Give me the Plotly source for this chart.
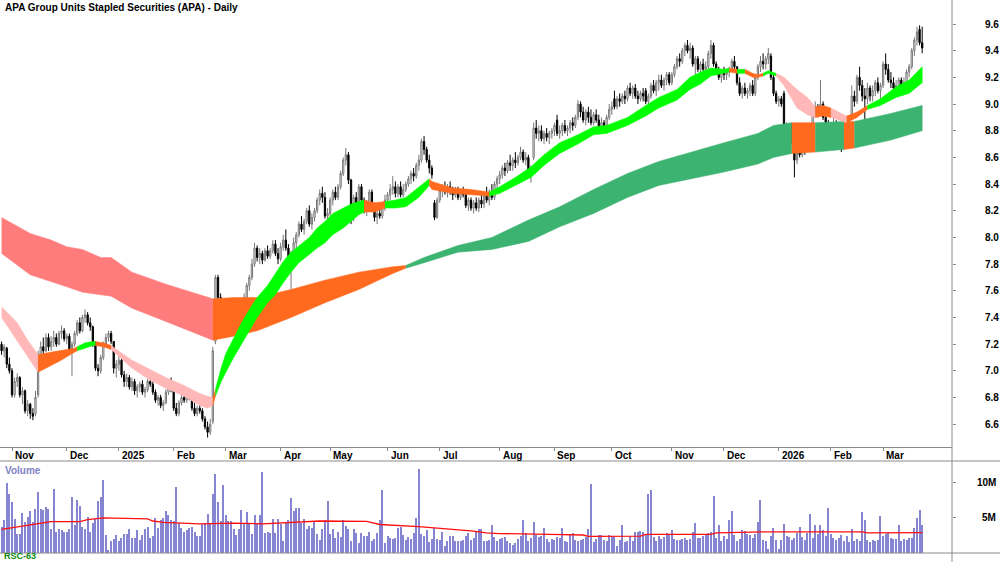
import pandas as pd
import plotly.graph_objects as go

# ---------------- data ----------------
HOLIDAYS = ["2024-12-25", "2024-12-26", "2025-01-01", "2025-01-27", "2025-04-18",
            "2025-04-21", "2025-04-25", "2025-06-09", "2025-12-25", "2025-12-26",
            "2026-01-01", "2026-01-26"]
START_DATE = "2024-10-28"
END_DATE = "2026-03-23"

MONTH_LABELS = ["Nov", "Dec", "2025", "Feb", "Mar", "Apr", "May", "Jun", "Jul", "Aug",
                "Sep", "Oct", "Nov", "Dec", "2026", "Feb", "Mar"]

OPEN = [
    7.20,7.15,7.17,7.05,7.00,6.82,6.92,6.95,6.82,6.85,
    6.70,6.75,6.68,6.68,6.82,7.12,7.18,7.15,7.25,7.18,
    7.22,7.25,7.20,7.28,7.30,7.24,7.26,7.16,7.20,7.28,
    7.36,7.30,7.40,7.42,7.36,7.33,7.20,7.02,7.00,7.10,
    7.20,7.25,7.28,7.22,7.02,7.05,7.08,6.97,6.92,6.95,
    6.88,6.92,6.85,6.88,6.90,6.84,6.86,6.92,6.90,6.84,
    6.78,6.80,6.74,6.76,6.84,6.88,6.86,6.72,6.68,6.76,
    6.80,6.78,6.83,6.80,6.72,6.68,6.72,6.70,6.64,6.58,
    6.54,6.62,7.22,7.70,7.55,7.45,7.48,7.36,7.42,7.33,
    7.40,7.32,7.35,7.46,7.55,7.64,7.70,7.80,7.92,7.85,
    7.88,7.83,7.90,7.86,7.90,7.95,7.88,7.84,7.93,7.98,
    7.92,7.84,7.86,7.96,8.02,8.10,8.06,8.12,8.20,8.10,
    8.15,8.20,8.28,8.33,8.30,8.16,8.18,8.28,8.34,8.30,
    8.38,8.48,8.58,8.62,8.43,8.14,8.30,8.26,8.38,8.28,
    8.20,8.25,8.34,8.24,8.15,8.18,8.16,8.22,8.28,8.32,
    8.36,8.38,8.33,8.38,8.32,8.36,8.40,8.44,8.48,8.46,
    8.54,8.58,8.72,8.66,8.58,8.52,8.26,8.15,8.28,8.35,
    8.38,8.34,8.38,8.34,8.32,8.36,8.30,8.34,8.32,8.24,
    8.28,8.22,8.26,8.22,8.28,8.25,8.32,8.28,8.34,8.30,
    8.40,8.44,8.47,8.52,8.50,8.56,8.54,8.58,8.56,8.60,
    8.64,8.58,8.60,8.50,8.60,8.82,8.78,8.80,8.74,8.78,
    8.75,8.78,8.80,8.88,8.78,8.80,8.84,8.80,8.82,8.86,
    8.84,8.90,9.00,8.94,8.88,8.94,8.90,8.86,8.92,8.88,
    8.82,8.86,8.84,8.90,8.96,9.04,8.98,9.04,9.02,9.06,
    9.04,9.12,9.08,9.12,9.06,9.04,9.08,9.10,9.02,9.06,
    9.14,9.10,9.16,9.18,9.14,9.18,9.22,9.16,9.22,9.28,
    9.34,9.32,9.40,9.44,9.40,9.42,9.30,9.34,9.26,9.30,
    9.26,9.28,9.38,9.44,9.30,9.24,9.20,9.24,9.22,9.24,
    9.26,9.32,9.28,9.16,9.08,9.12,9.08,9.10,9.14,9.08,
    9.20,9.28,9.32,9.30,9.34,9.36,9.20,9.08,9.02,9.04,
    9.08,8.82,8.80,8.84,8.72,8.58,8.66,8.62,8.68,8.66,
    8.76,8.84,8.94,8.98,8.96,9.00,8.90,8.84,8.80,8.82,
    8.86,8.78,8.80,8.70,8.76,8.84,8.92,9.06,9.02,9.20,
    9.14,9.06,9.04,9.12,9.06,9.10,9.16,9.10,9.14,9.30,
    9.26,9.18,9.16,9.12,9.14,9.18,9.12,9.16,9.24,9.28,
    9.40,9.48,9.56,9.46]
HIGH = [
    7.22,7.20,7.18,7.10,7.02,6.95,6.98,6.96,6.88,6.86,
    6.78,6.76,6.72,6.85,7.15,7.22,7.25,7.28,7.28,7.26,
    7.30,7.28,7.30,7.34,7.32,7.28,7.28,7.22,7.30,7.38,
    7.40,7.42,7.46,7.44,7.40,7.34,7.22,7.05,7.12,7.22,
    7.28,7.30,7.30,7.22,7.08,7.12,7.10,7.00,6.98,6.97,
    6.95,6.94,6.90,6.92,6.93,6.88,6.94,6.96,6.92,6.86,
    6.82,6.82,6.78,6.86,6.92,6.95,6.86,6.76,6.78,6.82,
    6.84,6.85,6.86,6.82,6.76,6.74,6.76,6.72,6.66,6.62,
    6.64,7.18,7.72,7.72,7.58,7.52,7.50,7.45,7.48,7.44,
    7.42,7.38,7.48,7.58,7.66,7.72,7.84,7.96,7.94,7.92,
    7.90,7.92,7.94,7.92,7.98,7.98,7.92,7.96,8.02,8.06,
    7.95,7.90,8.00,8.04,8.12,8.16,8.14,8.22,8.24,8.18,
    8.22,8.30,8.36,8.38,8.34,8.22,8.30,8.36,8.38,8.40,
    8.50,8.60,8.67,8.64,8.44,8.32,8.34,8.40,8.40,8.30,
    8.28,8.36,8.36,8.26,8.22,8.24,8.25,8.32,8.34,8.40,
    8.46,8.42,8.40,8.42,8.40,8.42,8.46,8.50,8.52,8.56,
    8.62,8.74,8.76,8.68,8.62,8.54,8.28,8.30,8.38,8.40,
    8.42,8.40,8.42,8.38,8.38,8.38,8.36,8.38,8.34,8.30,
    8.30,8.28,8.30,8.30,8.32,8.34,8.38,8.36,8.40,8.42,
    8.46,8.50,8.54,8.56,8.58,8.62,8.60,8.64,8.62,8.68,
    8.66,8.64,8.62,8.54,8.86,8.88,8.84,8.84,8.80,8.82,
    8.80,8.82,8.86,8.92,8.84,8.86,8.88,8.84,8.88,8.90,
    8.92,9.03,9.02,8.98,8.96,8.98,8.96,8.94,8.96,8.92,
    8.90,8.88,8.92,9.00,9.02,9.10,9.06,9.08,9.08,9.10,
    9.14,9.16,9.14,9.15,9.10,9.10,9.12,9.12,9.08,9.16,
    9.18,9.18,9.22,9.22,9.20,9.24,9.24,9.24,9.30,9.36,
    9.38,9.42,9.46,9.48,9.46,9.44,9.36,9.36,9.32,9.34,
    9.32,9.40,9.48,9.46,9.32,9.28,9.26,9.28,9.26,9.28,
    9.34,9.36,9.28,9.20,9.14,9.16,9.12,9.16,9.18,9.22,
    9.30,9.36,9.38,9.36,9.42,9.38,9.22,9.10,9.06,9.06,
    9.10,8.86,8.86,8.86,8.74,8.68,8.70,8.70,8.72,8.78,
    8.86,8.96,9.02,9.00,9.18,9.02,8.94,8.88,8.86,8.90,
    8.88,8.84,8.82,8.78,8.86,8.88,9.14,9.10,9.22,9.28,
    9.18,9.12,9.16,9.14,9.14,9.18,9.20,9.16,9.32,9.38,
    9.30,9.24,9.20,9.18,9.20,9.20,9.20,9.26,9.30,9.42,
    9.50,9.58,9.59,9.58]
LOW = [
    7.12,7.10,7.02,6.98,6.80,6.80,6.88,6.80,6.75,6.68,
    6.66,6.64,6.63,6.66,6.80,7.08,7.12,7.14,7.15,7.15,
    7.18,7.18,7.19,7.24,7.22,7.20,7.14,6.96,7.18,7.26,
    7.28,7.29,7.36,7.34,7.30,7.18,7.00,6.96,6.98,7.08,
    7.18,7.22,7.20,6.98,6.95,7.00,6.95,6.88,6.88,6.86,
    6.85,6.82,6.80,6.84,6.82,6.80,6.84,6.88,6.82,6.76,
    6.74,6.72,6.70,6.75,6.82,6.84,6.70,6.66,6.66,6.74,
    6.76,6.76,6.78,6.70,6.66,6.66,6.68,6.62,6.56,6.50,
    6.52,6.60,7.20,7.50,7.42,7.38,7.34,7.32,7.30,7.31,
    7.30,7.28,7.33,7.44,7.52,7.60,7.68,7.78,7.82,7.80,
    7.80,7.82,7.84,7.84,7.88,7.86,7.80,7.82,7.90,7.90,
    7.80,7.58,7.84,7.90,8.00,8.04,8.02,8.10,8.08,8.06,
    8.12,8.18,8.24,8.26,8.14,8.12,8.16,8.24,8.28,8.28,
    8.36,8.46,8.54,8.40,8.10,8.12,8.22,8.24,8.26,8.18,
    8.16,8.22,8.22,8.12,8.10,8.14,8.14,8.20,8.24,8.28,
    8.32,8.30,8.30,8.30,8.30,8.34,8.38,8.40,8.42,8.44,
    8.50,8.56,8.62,8.56,8.48,8.44,8.13,8.14,8.26,8.30,
    8.32,8.30,8.32,8.28,8.30,8.28,8.28,8.30,8.22,8.20,
    8.20,8.18,8.20,8.19,8.22,8.22,8.26,8.24,8.28,8.28,
    8.36,8.40,8.44,8.46,8.48,8.50,8.50,8.52,8.54,8.58,
    8.56,8.54,8.48,8.41,8.58,8.74,8.72,8.72,8.70,8.72,
    8.70,8.74,8.76,8.76,8.74,8.76,8.78,8.76,8.78,8.80,
    8.82,8.88,8.90,8.86,8.84,8.86,8.84,8.84,8.86,8.80,
    8.80,8.80,8.82,8.88,8.92,8.96,8.96,8.98,9.00,9.00,
    9.02,9.06,9.04,9.04,9.00,9.02,9.02,9.00,8.98,9.04,
    9.08,9.06,9.10,9.12,9.10,9.14,9.14,9.14,9.20,9.26,
    9.28,9.30,9.36,9.38,9.34,9.28,9.22,9.24,9.22,9.24,
    9.22,9.26,9.34,9.28,9.22,9.18,9.16,9.18,9.18,9.20,
    9.24,9.26,9.14,9.06,9.04,9.06,9.04,9.06,9.06,9.06,
    9.18,9.24,9.26,9.26,9.30,9.18,9.06,9.00,8.98,8.98,
    8.80,8.76,8.76,8.70,8.45,8.55,8.60,8.60,8.62,8.64,
    8.74,8.82,8.90,8.90,8.92,8.88,8.80,8.76,8.76,8.78,
    8.76,8.74,8.64,8.66,8.74,8.78,8.90,8.98,9.00,9.10,
    9.02,8.87,9.00,9.02,9.02,9.06,9.08,9.04,9.12,9.22,
    9.16,9.12,9.10,9.08,9.10,9.08,9.10,9.14,9.20,9.26,
    9.36,9.44,9.44,9.38]
CLOSE = [
    7.15,7.18,7.05,7.00,6.82,6.92,6.95,6.82,6.85,6.70,
    6.75,6.68,6.66,6.80,7.12,7.18,7.15,7.25,7.18,7.22,
    7.25,7.20,7.28,7.30,7.24,7.26,7.16,7.20,7.28,7.36,
    7.30,7.40,7.42,7.36,7.33,7.20,7.02,7.00,7.10,7.20,
    7.25,7.28,7.22,7.02,7.05,7.08,6.97,6.92,6.95,6.88,
    6.92,6.85,6.88,6.90,6.84,6.86,6.92,6.90,6.84,6.78,
    6.80,6.74,6.76,6.84,6.88,6.86,6.72,6.68,6.76,6.80,
    6.78,6.83,6.80,6.72,6.68,6.72,6.70,6.64,6.58,6.54,
    6.60,7.15,7.70,7.55,7.45,7.48,7.36,7.42,7.33,7.40,
    7.32,7.35,7.46,7.55,7.64,7.70,7.80,7.92,7.85,7.88,
    7.83,7.90,7.86,7.90,7.95,7.88,7.84,7.93,7.98,7.92,
    7.84,7.86,7.96,8.02,8.10,8.06,8.12,8.20,8.10,8.15,
    8.20,8.28,8.33,8.30,8.16,8.18,8.28,8.34,8.30,8.38,
    8.48,8.58,8.62,8.43,8.14,8.30,8.26,8.38,8.28,8.20,
    8.25,8.34,8.24,8.15,8.18,8.16,8.22,8.28,8.32,8.36,
    8.38,8.33,8.38,8.32,8.36,8.40,8.44,8.48,8.46,8.54,
    8.58,8.72,8.66,8.58,8.52,8.47,8.15,8.28,8.35,8.38,
    8.34,8.38,8.34,8.32,8.36,8.30,8.34,8.32,8.24,8.28,
    8.22,8.26,8.22,8.28,8.25,8.32,8.28,8.34,8.30,8.40,
    8.44,8.47,8.52,8.50,8.56,8.54,8.58,8.56,8.60,8.64,
    8.58,8.60,8.50,8.52,8.82,8.78,8.80,8.74,8.78,8.75,
    8.78,8.80,8.84,8.78,8.80,8.84,8.80,8.82,8.86,8.84,
    8.90,9.00,8.94,8.88,8.94,8.90,8.86,8.92,8.88,8.82,
    8.86,8.84,8.90,8.96,8.98,8.98,9.04,9.02,9.06,9.04,
    9.12,9.08,9.12,9.06,9.04,9.08,9.06,9.02,9.06,9.14,
    9.10,9.16,9.18,9.14,9.18,9.22,9.16,9.22,9.28,9.34,
    9.32,9.40,9.44,9.40,9.42,9.30,9.34,9.26,9.30,9.26,
    9.28,9.38,9.44,9.30,9.24,9.20,9.24,9.22,9.24,9.26,
    9.32,9.28,9.16,9.08,9.12,9.08,9.10,9.14,9.08,9.20,
    9.28,9.32,9.30,9.34,9.38,9.20,9.08,9.02,9.04,9.00,
    8.82,8.80,8.84,8.72,8.58,8.66,8.62,8.68,8.66,8.76,
    8.84,8.94,8.98,8.96,9.00,8.90,8.84,8.80,8.82,8.86,
    8.78,8.80,8.70,8.76,8.84,8.86,9.06,9.02,9.20,9.14,
    9.06,9.04,9.12,9.06,9.10,9.16,9.10,9.14,9.30,9.26,
    9.18,9.16,9.12,9.14,9.18,9.12,9.16,9.24,9.28,9.40,
    9.48,9.54,9.46,9.42]

# volume, millions of units
VOLUME_M = [
    3.6,4.7,9.9,8.4,7.2,4.8,2.6,2.6,5.7,4.4,
    5.1,5.9,4.4,6.2,8.7,6.2,6.1,6.5,6.2,3.3,
    9.1,2.9,3.3,3.2,3.0,3.0,3.3,7.9,3.9,7.5,
    6.6,3.7,3.4,5.1,3.0,4.2,4.8,7.3,8.0,10.4,
    2.5,0.4,1.6,2.0,2.5,1.7,2.1,2.7,2.7,3.4,
    2.1,2.1,3.2,1.8,2.5,3.3,3.7,2.1,2.4,5.0,
    3.5,4.6,5.0,6.0,5.4,4.6,4.5,9.4,4.2,3.5,
    3.0,3.2,3.5,3.7,3.0,2.4,2.4,4.1,4.2,5.5,
    4.1,8.4,11.2,7.2,4.5,9.7,5.4,4.5,4.5,3.4,
    2.5,3.4,6.1,4.1,5.8,4.2,2.7,5.3,4.2,5.3,
    11.5,2.8,2.9,2.8,4.8,2.8,4.8,4.1,1.7,4.4,
    4.7,7.8,5.9,6.3,6.4,4.2,4.8,3.4,3.8,3.5,
    4.5,2.6,1.8,3.3,4.6,7.3,2.7,3.3,2.1,2.9,
    2.2,4.7,3.8,3.4,1.6,3.4,2.8,1.3,2.8,2.3,
    2.3,3.0,1.6,2.0,2.8,4.7,8.9,1.3,2.4,2.1,
    2.0,2.1,3.5,3.7,2.5,1.8,2.2,2.0,2.8,4.9,
    12.0,2.7,2.3,3.2,1.5,2.0,3.5,2.0,1.8,3.0,
    1.0,1.6,2.4,2.4,1.6,1.7,1.6,1.8,2.3,2.8,
    1.8,2.1,3.0,3.3,3.4,1.6,1.6,1.8,3.9,2.2,
    1.7,2.0,2.1,2.2,1.6,1.4,1.1,1.4,2.0,2.4,
    4.7,2.8,1.6,2.1,4.4,2.5,2.2,2.3,3.5,2.0,
    1.5,2.0,1.8,2.2,2.1,3.5,1.6,1.5,2.7,2.8,
    1.8,1.6,1.8,2.0,2.2,3.3,9.8,1.5,2.0,2.5,
    2.5,1.8,1.6,2.5,2.4,2.2,1.0,1.8,3.9,1.5,
    1.6,2.3,1.6,3.0,3.0,3.1,3.0,2.7,8.3,8.9,
    2.2,1.7,2.4,2.0,2.2,2.8,2.5,3.2,2.0,1.8,
    1.8,2.0,2.1,1.8,2.0,3.0,4.2,2.1,2.1,2.3,
    2.6,2.8,2.9,8.1,2.1,3.9,1.6,2.4,2.0,4.6,
    5.9,2.5,1.7,2.0,3.2,3.1,2.6,2.5,2.1,2.7,
    4.3,7.5,1.8,1.6,0.5,2.3,3.5,1.8,0.5,1.8,
    4.1,2.3,2.2,1.8,2.1,2.8,3.6,2.2,1.8,2.8,
    5.5,2.1,4.0,2.6,3.9,3.2,2.3,6.3,2.6,2.1,
    1.8,2.1,2.5,1.6,2.3,1.5,3.4,1.7,2.0,1.6,
    5.8,4.6,1.8,1.5,1.8,1.6,1.8,5.2,2.3,2.6,
    2.8,2.1,2.0,1.9,4.0,1.6,2.0,1.8,2.1,2.1,
    3.5,4.9,6.1,4.0]

# volume moving average (read at sample bars)
VOL_MA_IDX = [0, 10, 19, 30, 33, 39, 56, 58, 62, 76, 80, 89, 100, 110, 122, 140, 145,
              160, 175, 180, 186, 191, 210, 223, 225, 245, 247, 272, 274, 290, 292,
              330, 332, 353]
VOL_MA_M = [3.3, 3.9, 4.4, 4.4, 4.7, 4.95, 4.8, 4.5, 4.3, 4.1, 4.15, 4.2, 4.1, 4.3, 4.5,
            4.45, 4.0, 3.7, 3.3, 3.1, 2.8, 2.7, 2.6, 2.5, 2.3, 2.35, 2.6, 2.6, 2.8,
            2.85, 2.95, 2.95, 2.8, 2.85]

# short-term trend band (read at sample bars)
FAST_IDX = [0, 6, 10, 14, 16, 22, 28, 29, 32, 35, 36, 39, 42, 50, 57, 63, 70, 76, 79, 81,
            82, 84, 86, 89, 92, 95, 98, 102, 105, 108, 111, 114, 118, 121, 124, 127, 131,
            134, 137, 139, 143, 147, 151, 155, 160, 164, 165, 173, 180, 187, 191, 197,
            203, 208, 214, 221, 227, 232, 240, 247, 252, 259, 264, 268, 272, 277, 279,
            282, 285, 288, 290, 292, 294, 297, 300, 305, 309, 312, 315, 318, 321, 324,
            328, 332, 337, 343, 348, 353]
FAST_TOP = [7.48, 7.36, 7.23, 7.12, 7.13, 7.15, 7.17, 7.18, 7.21, 7.22, 7.22, 7.21, 7.19,
            7.08, 7.01, 6.95, 6.89, 6.83, 6.81, 6.80, 6.86, 7.01, 7.13, 7.25, 7.36, 7.46,
            7.55, 7.64, 7.73, 7.82, 7.89, 7.94, 8.00, 8.07, 8.12, 8.18, 8.22, 8.25, 8.27,
            8.28, 8.26, 8.27, 8.28, 8.30, 8.38, 8.44, 8.42, 8.37, 8.36, 8.34, 8.38, 8.45,
            8.53, 8.62, 8.71, 8.77, 8.83, 8.84, 8.90, 8.99, 9.05, 9.11, 9.20, 9.24, 9.27,
            9.26, 9.27, 9.26, 9.26, 9.23, 9.22, 9.23, 9.25, 9.23, 9.20, 9.11, 9.05, 8.98,
            8.99, 8.97, 8.94, 8.91, 8.94, 8.99, 9.04, 9.13, 9.18, 9.28]
FAST_BOT = [7.40, 7.23, 7.11, 6.99, 7.01, 7.07, 7.14, 7.15, 7.17, 7.19, 7.19, 7.18, 7.16,
            7.02, 6.93, 6.87, 6.81, 6.74, 6.72, 6.74, 6.81, 6.91, 6.99, 7.10, 7.21, 7.30,
            7.40, 7.51, 7.57, 7.66, 7.74, 7.81, 7.87, 7.92, 7.96, 8.02, 8.07, 8.12, 8.17,
            8.19, 8.19, 8.22, 8.22, 8.23, 8.30, 8.39, 8.36, 8.33, 8.32, 8.31, 8.33, 8.39,
            8.45, 8.54, 8.63, 8.70, 8.77, 8.78, 8.84, 8.91, 8.97, 9.03, 9.11, 9.15, 9.21,
            9.23, 9.24, 9.23, 9.23, 9.20, 9.20, 9.21, 9.23, 9.21, 9.14, 8.97, 8.92, 8.90,
            8.91, 8.90, 8.88, 8.86, 8.90, 8.96, 8.99, 9.05, 9.08, 9.16]
FAST_STATES = [(0, 14, "down"), (14, 29, "neutral"), (29, 36, "up"), (36, 42, "neutral"),
               (42, 81, "down"), (81, 82, "neutral"), (82, 139, "up"), (139, 147, "neutral"),
               (147, 164, "up"), (164, 187, "neutral"), (187, 279, "up"), (279, 282, "neutral"),
               (282, 285, "up"), (285, 292, "neutral"), (292, 297, "up"), (297, 312, "down"),
               (312, 318, "neutral"), (318, 324, "down"), (324, 332, "neutral"), (332, 353, "up")]

# long-term trend band (read at sample bars)
SLOW_IDX = [0, 11, 19, 25, 31, 38, 42, 50, 63, 76, 81, 89, 98, 111, 124, 137, 150, 155, 162,
            175, 188, 202, 214, 227, 240, 252, 264, 277, 290, 296, 303, 312, 323, 327, 341, 353]
SLOW_TOP = [8.15, 8.03, 7.98, 7.93, 7.91, 7.85, 7.85, 7.74, 7.65, 7.57, 7.54, 7.55, 7.55,
            7.61, 7.68, 7.74, 7.78, 7.79, 7.85, 7.94, 8.00, 8.13, 8.23, 8.36, 8.48, 8.57,
            8.64, 8.71, 8.78, 8.84, 8.86, 8.86, 8.87, 8.87, 8.93, 8.99]
SLOW_BOT = [7.88, 7.72, 7.67, 7.63, 7.59, 7.57, 7.56, 7.47, 7.37, 7.27, 7.23, 7.26, 7.30,
            7.40, 7.51, 7.61, 7.73, 7.77, 7.81, 7.89, 7.91, 7.97, 8.08, 8.18, 8.30, 8.39,
            8.44, 8.49, 8.55, 8.60, 8.63, 8.64, 8.66, 8.67, 8.73, 8.80]
SLOW_STATES = [(0, 81, "down"), (81, 155, "neutral"), (155, 303, "up"), (303, 312, "neutral"),
               (312, 323, "up"), (323, 327, "neutral"), (327, 353, "up")]

PRICE_TICKS = [6.6, 6.8, 7.0, 7.2, 7.4, 7.6, 7.8, 8.0, 8.2, 8.4, 8.6, 8.8, 9.0, 9.2, 9.4, 9.6]
VOL_TICKS = [5, 10]
VOL_TICK_TEXT = ["5M", "10M"]

# ---------------- styles ----------------
FONT = "Liberation Sans, Arial, sans-serif"
FAST_COLORS = {"down": "#FFB7B7", "neutral": "#FF6A1F", "up": "#00FF00"}
SLOW_COLORS = {"down": "#FF7C7C", "neutral": "#FF6A1F", "up": "#3CB371"}
FRAME = "#8A8A8A"
W, H = 1000, 562
PLOT_RIGHT = 952
PRICE_BOTTOM = 447
STRIP_BOTTOM = 461
VOL_BOTTOM = 553
PX_PER_BAR = 2.608
FIRST_BAR_PX = 1.568

dates = [d for d in pd.bdate_range(START_DATE, END_DATE) if d.strftime("%Y-%m-%d") not in HOLIDAYS]
n = min(len(dates), len(OPEN), len(HIGH), len(LOW), len(CLOSE), len(VOLUME_M))
idx = list(range(n))

month_starts = [k for k in range(1, len(dates)) if dates[k].month != dates[k - 1].month]

fig = go.Figure()


def add_band(ix, top, bot, states, colors):
    for s, e, st in states:
        ks = [k for k in range(len(ix)) if s <= ix[k] <= e]
        xs = [ix[k] for k in ks] + [ix[k] for k in reversed(ks)]
        ys = [top[k] for k in ks] + [bot[k] for k in reversed(ks)]
        fig.add_trace(go.Scatter(x=xs, y=ys, fill="toself", mode="lines",
                                 line=dict(width=0.5, color=colors[st]),
                                 fillcolor=colors[st], hoverinfo="skip",
                                 xaxis="x", yaxis="y"))


add_band(SLOW_IDX, SLOW_TOP, SLOW_BOT, SLOW_STATES, SLOW_COLORS)
add_band(FAST_IDX, FAST_TOP, FAST_BOT, FAST_STATES, FAST_COLORS)

fig.add_trace(go.Candlestick(
    x=idx, open=OPEN[:n], high=HIGH[:n], low=LOW[:n], close=CLOSE[:n],
    increasing=dict(line=dict(color="#777777", width=1), fillcolor="#FFFFFF"),
    decreasing=dict(line=dict(color="#000000", width=1), fillcolor="#000000"),
    whiskerwidth=0, hoverinfo="skip", xaxis="x", yaxis="y"))

fig.add_trace(go.Bar(x=idx, y=VOLUME_M[:n], width=0.42, marker=dict(color="#8585D2", line=dict(width=0)),
                     hoverinfo="skip", xaxis="x2", yaxis="y2"))
fig.add_trace(go.Scatter(x=VOL_MA_IDX, y=VOL_MA_M, mode="lines", line=dict(color="#FF1010", width=1.3),
                         hoverinfo="skip", xaxis="x2", yaxis="y2"))

x_range = [-FIRST_BAR_PX / PX_PER_BAR, (PLOT_RIGHT - FIRST_BAR_PX) / PX_PER_BAR]
price_range = [9.78 - PRICE_BOTTOM / 133.4, 9.78]
vol_range = [10 - (VOL_BOTTOM - 482.5) / 7.0, 10 + (482.5 - STRIP_BOTTOM) / 7.0]

fig.update_layout(
    width=W, height=H, margin=dict(l=0, r=0, t=0, b=0),
    paper_bgcolor="white", plot_bgcolor="white", showlegend=False,
    xaxis=dict(domain=[0, PLOT_RIGHT / W], range=x_range, showgrid=False, zeroline=False,
               showline=True, linecolor=FRAME, linewidth=1, mirror=False,
               ticks="outside", ticklen=3, tickcolor=FRAME, tickvals=month_starts,
               showticklabels=False, rangeslider=dict(visible=False), fixedrange=True),
    yaxis=dict(domain=[(H - PRICE_BOTTOM) / H, 1], range=price_range, side="right", anchor="x",
               showgrid=False, zeroline=False, showline=False, ticks="outside", ticklen=3,
               tickcolor=FRAME, tickvals=PRICE_TICKS, ticktext=["%.1f" % v for v in PRICE_TICKS],
               tickfont=dict(family=FONT, size=10, color="#000000", weight="bold"),
               ticklabelstandoff=27, fixedrange=True),
    xaxis2=dict(domain=[0, PLOT_RIGHT / W], range=x_range, anchor="y2", showgrid=False,
                zeroline=False, showline=False, showticklabels=False, ticks="", fixedrange=True),
    yaxis2=dict(domain=[(H - VOL_BOTTOM) / H, (H - STRIP_BOTTOM) / H], range=vol_range,
                side="right", anchor="x2", showgrid=False, zeroline=False, showline=False,
                ticks="outside", ticklen=3, tickcolor=FRAME, tickvals=VOL_TICKS,
                showticklabels=False, fixedrange=True),
    bargap=0,
)

# frame lines
shapes = [
    dict(type="line", xref="paper", yref="paper", x0=PLOT_RIGHT / W, x1=PLOT_RIGHT / W, y0=0, y1=1,
         line=dict(color=FRAME, width=1)),
    dict(type="line", xref="paper", yref="paper", x0=0, x1=1, y0=(H - STRIP_BOTTOM) / H,
         y1=(H - STRIP_BOTTOM) / H, line=dict(color=FRAME, width=1)),
    dict(type="line", xref="paper", yref="paper", x0=0, x1=1, y0=(H - VOL_BOTTOM) / H,
         y1=(H - VOL_BOTTOM) / H, line=dict(color=FRAME, width=1)),
]
fig.update_layout(shapes=shapes)

ann = []
for k, lab in zip(month_starts, MONTH_LABELS):
    ann.append(dict(x=k, xref="x", y=(H - 455) / H, yref="paper", text=lab, showarrow=False,
                    xanchor="left", yanchor="middle", xshift=1,
                    font=dict(family=FONT, size=10, color="#000000", weight="bold")))
for v, t in zip(VOL_TICKS, VOL_TICK_TEXT):
    ann.append(dict(x=0.998, xref="paper", y=v, yref="y2", text=t, showarrow=False,
                    xanchor="right", yanchor="middle",
                    font=dict(family=FONT, size=10, color="#000000", weight="bold")))
ann.append(dict(x=0.003, xref="paper", y=(H - 8) / H, yref="paper",
                text="APA Group Units Stapled Securities (APA) - Daily", showarrow=False,
                xanchor="left", yanchor="middle",
                font=dict(family=FONT, size=10, color="#000000", weight="bold")))
ann.append(dict(x=0.003, xref="paper", y=(H - 470) / H, yref="paper", text="Volume",
                showarrow=False, xanchor="left", yanchor="middle",
                font=dict(family=FONT, size=10, color="#7F7FC4", weight="bold")))
ann.append(dict(x=0.003, xref="paper", y=0, yref="paper", text="RSC-63",
                showarrow=False, xanchor="left", yanchor="bottom", borderpad=0,
                font=dict(family=FONT, size=9, color="#0A8A0A", weight="bold")))
fig.update_layout(annotations=ann)

fig.write_html("out.html")
